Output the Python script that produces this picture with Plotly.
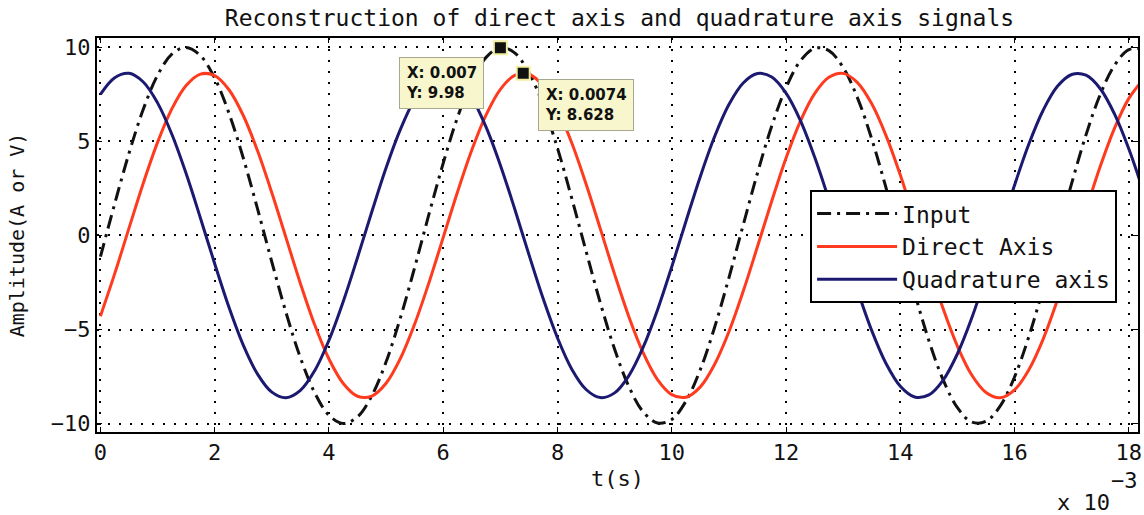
import plotly.graph_objects as go

# time axis in ms (axis shows x 10^-3 s)
t_ms = [0.0, 0.25, 0.5, 0.75, 1.0, 1.25, 1.5, 1.75, 2.0, 2.25, 2.5, 2.75, 3.0, 3.25, 3.5, 3.75,
        4.0, 4.25, 4.5, 4.75, 5.0, 5.25, 5.5, 5.75, 6.0, 6.25, 6.5, 6.75, 7.0, 7.25, 7.5, 7.75,
        8.0, 8.25, 8.5, 8.75, 9.0, 9.25, 9.5, 9.75, 10.0, 10.25, 10.5, 10.75, 11.0, 11.25, 11.5,
        11.75, 12.0, 12.25, 12.5, 12.75, 13.0, 13.25, 13.5, 13.75, 14.0, 14.25, 14.5, 14.75,
        15.0, 15.25, 15.5, 15.75, 16.0, 16.25, 16.5, 16.75, 17.0, 17.25, 17.5, 17.75, 18.0, 18.25]

input_sig = [-1.13, 1.69, 4.37, 6.71, 8.52, 9.64, 10.0, 9.56, 8.37, 6.50, 4.12, 1.41, -1.41,
             -4.12, -6.50, -8.36, -9.56, -10.0, -9.64, -8.52, -6.72, -4.38, -1.70, 1.13, 3.85,
             6.28, 8.20, 9.47, 9.99, 9.71, 8.66, 6.92, 4.64, 1.97, -0.84, -3.59, -6.05, -8.04,
             -9.38, -9.97, -9.78, -8.80, -7.13, -4.88, -2.25, 0.56, 3.32, 5.82, 7.86, 9.28, 9.95,
             9.83, 8.93, 7.32, 5.13, 2.53, -0.27, -3.05, -5.59, -7.68, -9.16, -9.92, -9.88, -9.06,
             -7.52, -5.37, -2.81, -0.01, 2.78, 5.35, 7.50, 9.05, 9.88, 9.92]

direct_axis = [-4.29, -2.03, 0.39, 2.78, 4.95, 6.73, 7.97, 8.58, 8.50, 7.75, 6.38, 4.50, 2.27,
               -0.14, -2.55, -4.75, -6.57, -7.87, -8.55, -8.54, -7.86, -6.54, -4.71, -2.51, -0.10,
               2.31, 4.54, 6.41, 7.77, 8.51, 8.57, 7.95, 6.70, 4.92, 2.74, 0.35, -2.07, -4.33,
               -6.24, -7.66, -8.46, -8.60, -8.05, -6.85, -5.12, -2.97, -0.59, 1.83, 4.12, 6.07,
               7.54, 8.41, 8.62, 8.13, 7.00, 5.31, 3.21, 0.84, -1.59, -3.90, -5.89, -7.42, -8.35,
               -8.63, -8.21, -7.14, -5.51, -3.43, -1.08, 1.35, 3.68, 5.71, 7.29, 8.29]

quadrature_axis = [7.50, 8.39, 8.62, 8.16, 7.05, 5.38, 3.29, 0.93, -1.50, -3.82, -5.83, -7.37,
                   -8.33, -8.63, -8.24, -7.19, -5.57, -3.51, -1.17, 1.26, 3.60, 5.64, 7.24, 8.27,
                   8.63, 8.31, 7.33, 5.76, 3.74, 1.42, -1.02, -3.37, -5.45, -7.11, -8.19, -8.62,
                   -8.37, -7.45, -5.94, -3.96, -1.66, 0.77, 3.14, 5.26, 6.96, 8.11, 8.61, 8.43,
                   7.57, 6.12, 4.17, 1.90, -0.53, -2.91, -5.06, -6.81, -8.02, -8.59, -8.48, -7.69,
                   -6.29, -4.39, -2.14, 0.28, 2.68, 4.86, 6.66, 7.93, 8.56, 8.52, 7.80, 6.45, 4.60,
                   2.38]

# data tips
tip_x_ms = [7.0, 7.4]
tip_y = [9.98, 8.628]
tip_text = ["X: 0.007<br>Y: 9.98", "X: 0.0074<br>Y: 8.628"]

x_ticks = [0, 2, 4, 6, 8, 10, 12, 14, 16, 18]
y_ticks = [-10, -5, 0, 5, 10]

MONO = "DejaVu Sans Mono"
INK = "#111111"

fig = go.Figure()
fig.add_trace(go.Scatter(x=t_ms, y=input_sig, name="Input", mode="lines",
                         line=dict(color=INK, width=3, dash="14px,6px,3px,6px", shape="spline")))
fig.add_trace(go.Scatter(x=t_ms, y=direct_axis, name="Direct Axis", mode="lines",
                         line=dict(color="#FF3B1F", width=3, shape="spline")))
fig.add_trace(go.Scatter(x=t_ms, y=quadrature_axis, name="Quadrature axis", mode="lines",
                         line=dict(color="#1C1A70", width=3, shape="spline")))
fig.add_trace(go.Scatter(x=tip_x_ms, y=tip_y, mode="markers", showlegend=False,
                         marker=dict(symbol="square", size=13, color=INK,
                                     line=dict(color="#F2F0A0", width=2))))

shifts = [(-59, -35), (63, -32)]
for xv, yv, txt, (dx, dy) in zip(tip_x_ms, tip_y, tip_text, shifts):
    fig.add_annotation(x=xv, y=yv, xref="x", yref="y", text=txt, showarrow=False,
                       xshift=dx, yshift=dy, align="left",
                       font=dict(family="DejaVu Sans", size=15, color=INK, weight="bold"),
                       bgcolor="#F8F6CC", bordercolor="#A8A890", borderwidth=1, borderpad=6)

axis_common = dict(showline=True, linecolor="black", linewidth=2, mirror="ticks",
                   ticks="inside", ticklen=5, tickwidth=1, tickcolor="black",
                   showgrid=True, gridcolor="black", gridwidth=1.5, griddash="2px,9px",
                   zeroline=False, tickfont=dict(family=MONO, size=22, color=INK))

fig.update_xaxes(range=[-0.06, 18.16], tickvals=x_ticks, ticklabeloverflow="allow",
                 title=dict(text="t(s)", font=dict(family=MONO, size=22, color=INK), standoff=6),
                 **axis_common)
fig.update_yaxes(range=[-10.45, 10.5], tickvals=y_ticks,
                 title=dict(text="Amplitude(A or V)", font=dict(family=MONO, size=20, color=INK), standoff=21),
                 **axis_common)

# exponent label of the x axis
fig.add_annotation(x=1.0, y=0, xref="paper", yref="paper", xanchor="right", yanchor="middle",
                   text="−3", showarrow=False, xshift=2, yshift=-48,
                   font=dict(family=MONO, size=22, color=INK))
fig.add_annotation(x=(1087 - 97) / 1045, y=0, xref="paper", yref="paper", xanchor="center",
                   yanchor="middle", text="x 10", showarrow=False, yshift=-70,
                   font=dict(family=MONO, size=22, color=INK))

fig.update_layout(
    width=1144, height=515,
    margin=dict(l=97, r=2, t=38, b=83),
    paper_bgcolor="white", plot_bgcolor="white",
    title=dict(text="Reconstruction of direct axis and quadrature axis signals",
               x=(97 + 1142) / 2 / 1144, xanchor="center", y=1 - 18 / 515, yanchor="middle",
               font=dict(family=MONO, size=23, color=INK)),
    legend=dict(x=0.685, y=0.614, xanchor="left", yanchor="top",
                bgcolor="white", bordercolor="black", borderwidth=2,
                font=dict(family=MONO, size=23, color=INK),
                itemwidth=80, tracegroupgap=0),
    showlegend=True,
)

fig.write_html("out.html")
